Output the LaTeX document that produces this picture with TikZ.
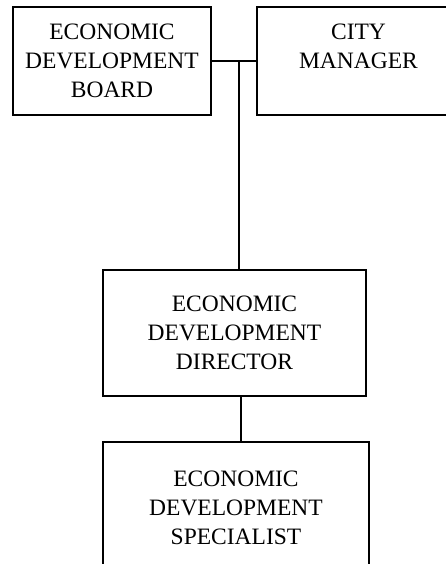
\documentclass[tikz,border=0pt]{standalone}
\usepackage{fontspec}
\setmainfont{Liberation Serif}
\begin{document}
\begin{tikzpicture}[x=1pt,y=-1pt,
  box/.style={draw,line width=1.4pt,rectangle,inner sep=0pt,align=center,
    font=\fontsize{23.5}{29}\selectfont},
  conn/.style={line width=1.4pt}]
\useasboundingbox (0,0) rectangle (446,564);
\clip (0,0) rectangle (446,564);
\node[box,minimum width=198pt,minimum height=108pt] (board) at (112,61) {ECONOMIC\\DEVELOPMENT\\BOARD};
\node[box,minimum width=203pt,minimum height=108pt] (city) at (358.5,61) {CITY\\MANAGER\\\phantom{BOARD}};
\node[box,minimum width=263pt,minimum height=126pt] (dir) at (234.5,333) {ECONOMIC\\DEVELOPMENT\\DIRECTOR};
\node[box,minimum width=266pt,minimum height=132pt] (spec) at (236,508) {ECONOMIC\\DEVELOPMENT\\SPECIALIST};
\coordinate (j) at (239,61);
\coordinate (j2) at (241,396);
\draw[conn] (board.east) -- (city.west);
\draw[conn] (j) -- (j |- dir.north);
\draw[conn] (j2) -- (j2 |- spec.north);
\end{tikzpicture}
\end{document}
